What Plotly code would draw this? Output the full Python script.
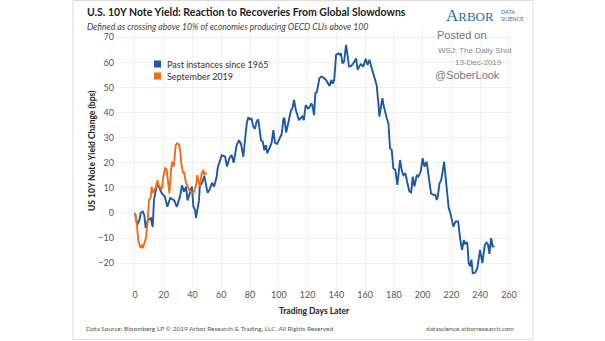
import plotly.graph_objects as go

# ---- data ----
blue_days = [0, 1.6, 3, 4, 5.5, 6.5, 7.4, 9, 11, 12.3, 13.2, 15.5, 17, 18.5, 20.8, 22.5, 24.5, 27.3, 29,
             31.3, 32.7, 34, 35.5, 36.5, 38.5, 39.6, 40.6, 41.8, 42.4, 43.2, 44.5, 45, 46.6, 48.2, 49.4,
             50.5, 52, 53.5, 55, 56.8, 57.5, 59, 60.3, 62.6, 64, 65.7, 67.2, 68.6, 70.7, 72.3, 73.7, 75.3,
             76.5, 77.7, 78.8, 79.9, 81, 82.3, 83.4, 84.6, 85.7, 86.9, 87.6, 88.8, 89.9, 91, 92, 93.6, 95,
             96.2, 97.3, 98.8, 100.8, 102, 103.1, 103.8, 105.1, 107, 108.5, 109.4, 110.6, 111.8, 112.8, 114,
             116.3, 117.4, 118, 118.7, 120.3, 121.7, 122.4, 123.3, 124.5, 125.4, 126.5, 128.2, 129.4, 130.8,
             132.8, 134.6, 135.3, 136.5, 137.5, 138.5, 139.8, 141.4, 142.5, 143.2, 144.2, 145.4, 146.7,
             147.9, 148.8, 150.2, 151.8, 153.7, 154.8, 156, 157.1, 158.7, 160.4, 161.6, 163, 164.2, 165.7,
             166.9, 168, 169.2, 169.9, 171, 172, 172.8, 173.9, 175, 176.2, 177.3, 178.5, 179.6, 181, 182.4,
             184.3, 185.4, 186.6, 188, 189.4, 190.8, 192, 193.1, 194.3, 195.9, 197, 198.6, 200, 201.2, 202.8,
             204.4, 205.8, 207.4, 208.8, 209.8, 210.5, 211.7, 212.9, 214, 214.9, 215.8, 216.9, 218.1, 219,
             220.2, 221.4, 222.9, 224.7, 226, 227.4, 228.6, 229.6, 231, 232, 233, 233.9, 234.8, 236.5, 238,
             239.9, 241.5, 243.2, 244.4, 245.4, 246.4, 247.6, 248.7, 249.9]
blue_vals = [0, -4.8, -3, 0, 0.5, -1, -6, -2.8, -2, -5.6, 5.2, 12, 10, 8, 6.4, 2.5, 6, 5, 2.4,
             6.5, 11, 8.5, 10.5, 5, 8.5, 10.5, 2.5, 1.2, -2, 1, 5, 10.5, 12, 14.7, 10.5,
             8, 9.5, 12, 10.5, 14.5, 18, 21, 23, 22.5, 18.5, 22, 23.1, 20, 27, 29, 27.5, 22.4,
             30.4, 35.7, 38.1, 37.3, 37.6, 34.4, 33.5, 36.5, 37.3, 33, 29, 28.5, 25, 27, 23.8, 25.9, 28,
             33, 28, 27.5, 29.8, 31.5, 37, 38, 32, 36.4, 41, 41.6, 45, 41, 39.5, 37,
             38.5, 37, 40, 43, 41.6, 42.3, 43.6, 43, 39, 47.7, 48.3, 53.6, 54.3, 54,
             53, 51.5, 50.6, 53, 51.5, 53, 63, 63.6, 63, 63.6, 59.6, 60.3, 67,
             62.3, 58.3, 58.5, 59.6, 61.6, 57, 58.5, 59.3, 58.3, 61.4, 59, 61, 58.5, 55.6,
             53.6, 51, 43.7, 38.4, 42.3, 45.7, 43, 39.7, 37.8, 35.7, 25.8, 25, 17.8, 17.1, 11.2,
             21.1, 17.1, 15, 15.8, 11.8, 8.5, 8.2, 14.5, 10.6, 15.1, 14.5, 16.4, 21.8, 18.5, 20.4,
             13.1, 7.8, 7.2, 7.2, 5.2, 6.5, 11.8, 13.1, 17.1, 20.4, 15.1, 9.2, 1.9, 0.5,
             -2.1, -5.5, -3.4, -3.4, -10.1, -14.7, -10.8, -12.3, -11.7, -20, -21.3, -18.6, -24, -23.8, -22,
             -14.7, -20, -12.7, -11.8, -12.5, -16.3, -10, -13.4, -13.3]

orange_days = [0, 1, 2.3, 3.5, 4.6, 5, 5.5, 7.6, 8.8, 9.7, 10.9, 11.6, 12.3, 13.5, 14.6, 15.5, 16.5,
               17.5, 18.6, 19.7, 20.9, 22, 23, 23.9, 24.9, 25.7, 26.7, 27.2, 28.3, 29.4, 30.6, 31.4,
               32.2, 33.4, 34, 35.5, 36.5, 37.8, 39.2, 40.3, 41.5, 42.7, 43.3, 44.2, 45, 46.4, 47.6,
               48.2, 49.1, 49.8]
orange_vals = [0, -3, -10.8, -13.4, -14, -12.5, -14, -10, -3.5, 5.2, 6, 10.5, 8, 9, 10.5, 13, 11,
               10, 9.5, 14.5, 17.8, 17.3, 12, 7.8, 16, 20.4, 18.5, 19.5, 27, 27.8, 27.2, 25,
               19.8, 15.8, 16.5, 11.8, 11, 9.1, 8.5, 7.8, 9.2, 11.8, 15.1, 13, 10.5, 15.8, 17.1,
               15, 15.8, 15.6]

x_ticks = [0, 20, 40, 60, 80, 100, 120, 140, 160, 180, 200, 220, 240, 260]
y_ticks = [-20, -10, 0, 10, 20, 30, 40, 50, 60, 70]

series_names = ["Past instances since 1965", "September 2019"]
BLUE = "#1f58a5"
ORANGE = "#ee6e1a"
FONT = "Lato"

fig = go.Figure()
fig.add_trace(go.Scatter(x=blue_days, y=blue_vals, mode="lines", name=series_names[0],
                         line=dict(color=BLUE, width=1.9), showlegend=False))
fig.add_trace(go.Scatter(x=orange_days, y=orange_vals, mode="lines", name=series_names[1],
                         line=dict(color=ORANGE, width=1.9), showlegend=False))

W, H = 605, 341
L, R, T, B = 115, 92, 30, 53
pw, ph = W - L - R, H - T - B

fig.update_layout(
    width=W, height=H,
    margin=dict(l=L, r=R, t=T, b=B),
    paper_bgcolor="white", plot_bgcolor="white",
    font=dict(family=FONT, size=9, color="#555555"),
    xaxis=dict(range=[-13.9, 262.8], tickvals=x_ticks, showgrid=True, gridcolor="#f0f0f0",
               gridwidth=1, zeroline=False, showline=False, ticks="", ticklen=0,
               tickfont=dict(size=9, color="#555555")),
    yaxis=dict(range=[-29.9, 72.9], tickvals=y_ticks, showgrid=True, gridcolor="#f0f0f0",
               gridwidth=1, zeroline=False, showline=False, ticks="",
               tickfont=dict(size=9, color="#555555")),
)


def sx(px):
    return (px - L) / pw


def sy(py):
    return ((H - py) - B) / ph


ann = []


def text(t, px, py, size, color, family=FONT, xanchor="left", **kw):
    d = dict(text=t, x=sx(px), y=sy(py), xanchor=xanchor, yanchor="middle",
             font=dict(size=size, color=color, family=family),
             xref="paper", yref="paper", showarrow=False)
    d.update(kw)
    ann.append(d)


# title & subtitle
text("<b>U.S. 10Y Note Yield: Reaction to Recoveries From Global Slowdowns</b>", 85, 12, 10.5, "#222222")
text("<i>Defined as crossing above 10% of economies producing OECD CLIs above 100</i>", 85, 27, 8.7, "#444444")
# logo & posted
text("A<span style='font-size:13px'>RBOR</span>", 444, 16, 17, "#2b6cb5", family="Liberation Serif")
text("DATA<br>SCIENCE", 499, 16, 5.5, "#2b6cb5", align="left")
text("Posted on", 435, 35, 11, "#777777", family="Liberation Sans")
text("WSJ: The Daily Shot", 436, 50, 8, "#888888", family="Liberation Sans")
text("13-Dec-2019", 504, 62, 8, "#888888", family="Liberation Sans", xanchor="right")
text("@SoberLook", 433, 75, 11, "#777777", family="Liberation Sans")
# legend
for i, nm in enumerate(series_names):
    text(nm, 165, 64 + 12 * i, 9, "#333333")
# axis titles
text("<b>US 10Y Note Yield Change (bps)</b>", 92, 151, 8.5, "#222222", xanchor="center", textangle=-90)
text("<b>Trading Days Later</b>", 314, 311, 8.5, "#222222", xanchor="center")
# footer
text("Data Source: Bloomberg LP © 2019 Arbor Research & Trading, LLC. All Rights Reserved", 84, 328, 6.5, "#555555")
text("datascience.arborresearch.com", 516, 328, 6.5, "#555555", xanchor="right")
fig.update_layout(annotations=ann)

shapes = [dict(type="rect", xref="paper", yref="paper", x0=sx(73), x1=sx(533), y0=sy(339.5), y1=sy(0.5),
               line=dict(color="#dddddd", width=1), fillcolor="rgba(0,0,0,0)", layer="below")]
for i, col in enumerate([BLUE, ORANGE]):
    yy = 64 + 12 * i
    shapes.append(dict(type="rect", xref="paper", yref="paper", x0=sx(154), x1=sx(161),
                       y0=sy(yy + 3.5), y1=sy(yy - 3.5), line=dict(width=0), fillcolor=col))
fig.update_layout(shapes=shapes)

fig.write_html("out.html")
